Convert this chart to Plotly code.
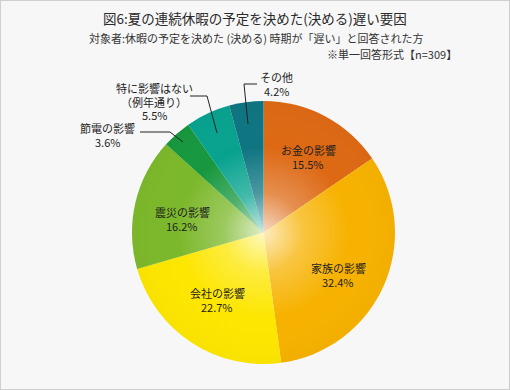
import base64
import plotly.graph_objects as go

W, H = 510, 390

# ---- data ----
categories = ["お金の影響", "家族の影響", "会社の影響", "震災の影響", "節電の影響", "特に影響はない<br>（例年通り）", "その他"]
values = [15.5, 32.4, 22.7, 16.2, 3.6, 5.5, 4.2]
colors = ["#dd6914", "#f7b200", "#fde600", "#7cb82b", "#17983f", "#08a38f", "#0f7582"]

title_text = "図6:夏の連続休暇の予定を決めた(決める)遅い要因"
subtitle_text = "対象者:休暇の予定を決めた (決める) 時期が「遅い」と回答された方"
note_text = "※単一回答形式【n=309】"

# label top-line centres in pixels (layout only)
label_pos = [(308, 150), (338, 268), (217, 293), (182, 212), (107, 128), (154, 88), (276, 77)]
LINE_STEP = 13.7
# leader lines (pixels) for small slices
leaders = {
    4: [(140, 132), (170, 132), (183, 142)],
    5: [(190, 96), (207, 96), (217, 133)],
    6: [(257, 84), (244, 84), (248, 124)],
}

FONT = "Noto Sans CJK JP"


def px(x, y):
    return x / W, 1 - y / H


cx, cy, r = 263.5, 232.5, 131.5
x0, y1 = px(cx - r, cy - r)
x1, y0 = px(cx + r, cy + r)

fig = go.Figure(go.Pie(
    labels=categories,
    values=values,
    sort=False,
    direction="clockwise",
    rotation=0,
    marker=dict(colors=colors, line=dict(width=0)),
    textinfo="none",
    hoverinfo="label+percent",
    showlegend=False,
    domain=dict(x=[x0, x1], y=[y0, y1]),
))

annotations = []
for i, (cat, val) in enumerate(zip(categories, values)):
    lines = cat.split("<br>") + [f"{val}%"]
    bx, by = label_pos[i]
    for k, line in enumerate(lines):
        lx, ly = px(bx, by + k * LINE_STEP)
        annotations.append(dict(
            x=lx, y=ly, xref="paper", yref="paper", showarrow=False,
            text=line, align="center", borderpad=0,
            font=dict(family=FONT, size=11, color="#1e1e1e"),
            xanchor="center", yanchor="middle",
        ))

tx, ty = px(255, 18)
annotations.append(dict(x=tx, y=ty, xref="paper", yref="paper", showarrow=False,
                        text=title_text, font=dict(family=FONT, size=13.5, color="#2a2a2a"),
                        xanchor="center", yanchor="middle"))
sx, sy = px(256, 38)
annotations.append(dict(x=sx, y=sy, xref="paper", yref="paper", showarrow=False,
                        text=subtitle_text, font=dict(family=FONT, size=11, color="#333333"),
                        xanchor="center", yanchor="middle"))
nx, ny = px(459, 54)
annotations.append(dict(x=nx, y=ny, xref="paper", yref="paper", showarrow=False,
                        text=note_text, font=dict(family=FONT, size=11, color="#333333"),
                        xanchor="right", yanchor="middle"))

shapes = [dict(type="rect", xref="paper", yref="paper", x0=0, y0=0, x1=1, y1=1,
               line=dict(color="#cfcfcf", width=2), fillcolor="rgba(0,0,0,0)")]
for pts in leaders.values():
    path = "M " + " L ".join(f"{px(a, b)[0]},{px(a, b)[1]}" for a, b in pts)
    shapes.append(dict(type="path", xref="paper", yref="paper", path=path,
                       line=dict(color="#222222", width=1)))

svg = (
    '<svg xmlns="http://www.w3.org/2000/svg" width="200" height="200" viewBox="0 0 200 200">'
    '<defs><radialGradient id="g" cx="0.5" cy="0.5" r="0.5">'
    '<stop offset="0" stop-color="#ffffff" stop-opacity="0.75"/>'
    '<stop offset="0.3" stop-color="#ffffff" stop-opacity="0.25"/>'
    '<stop offset="0.65" stop-color="#ffffff" stop-opacity="0"/>'
    '<stop offset="1" stop-color="#000000" stop-opacity="0.02"/>'
    '</radialGradient></defs>'
    '<circle cx="100" cy="100" r="100" fill="url(#g)"/></svg>'
)
src = "data:image/svg+xml;base64," + base64.b64encode(svg.encode()).decode()

fig.update_layout(
    width=W, height=H,
    margin=dict(l=0, r=0, t=0, b=0),
    paper_bgcolor="#f7f7f7",
    plot_bgcolor="#f7f7f7",
    annotations=annotations,
    shapes=shapes,
    images=[dict(source=src, xref="paper", yref="paper", x=x0, y=y1,
                 sizex=x1 - x0, sizey=y1 - y0, xanchor="left", yanchor="top",
                 sizing="stretch", layer="above")],
)

fig.write_html("out.html")
